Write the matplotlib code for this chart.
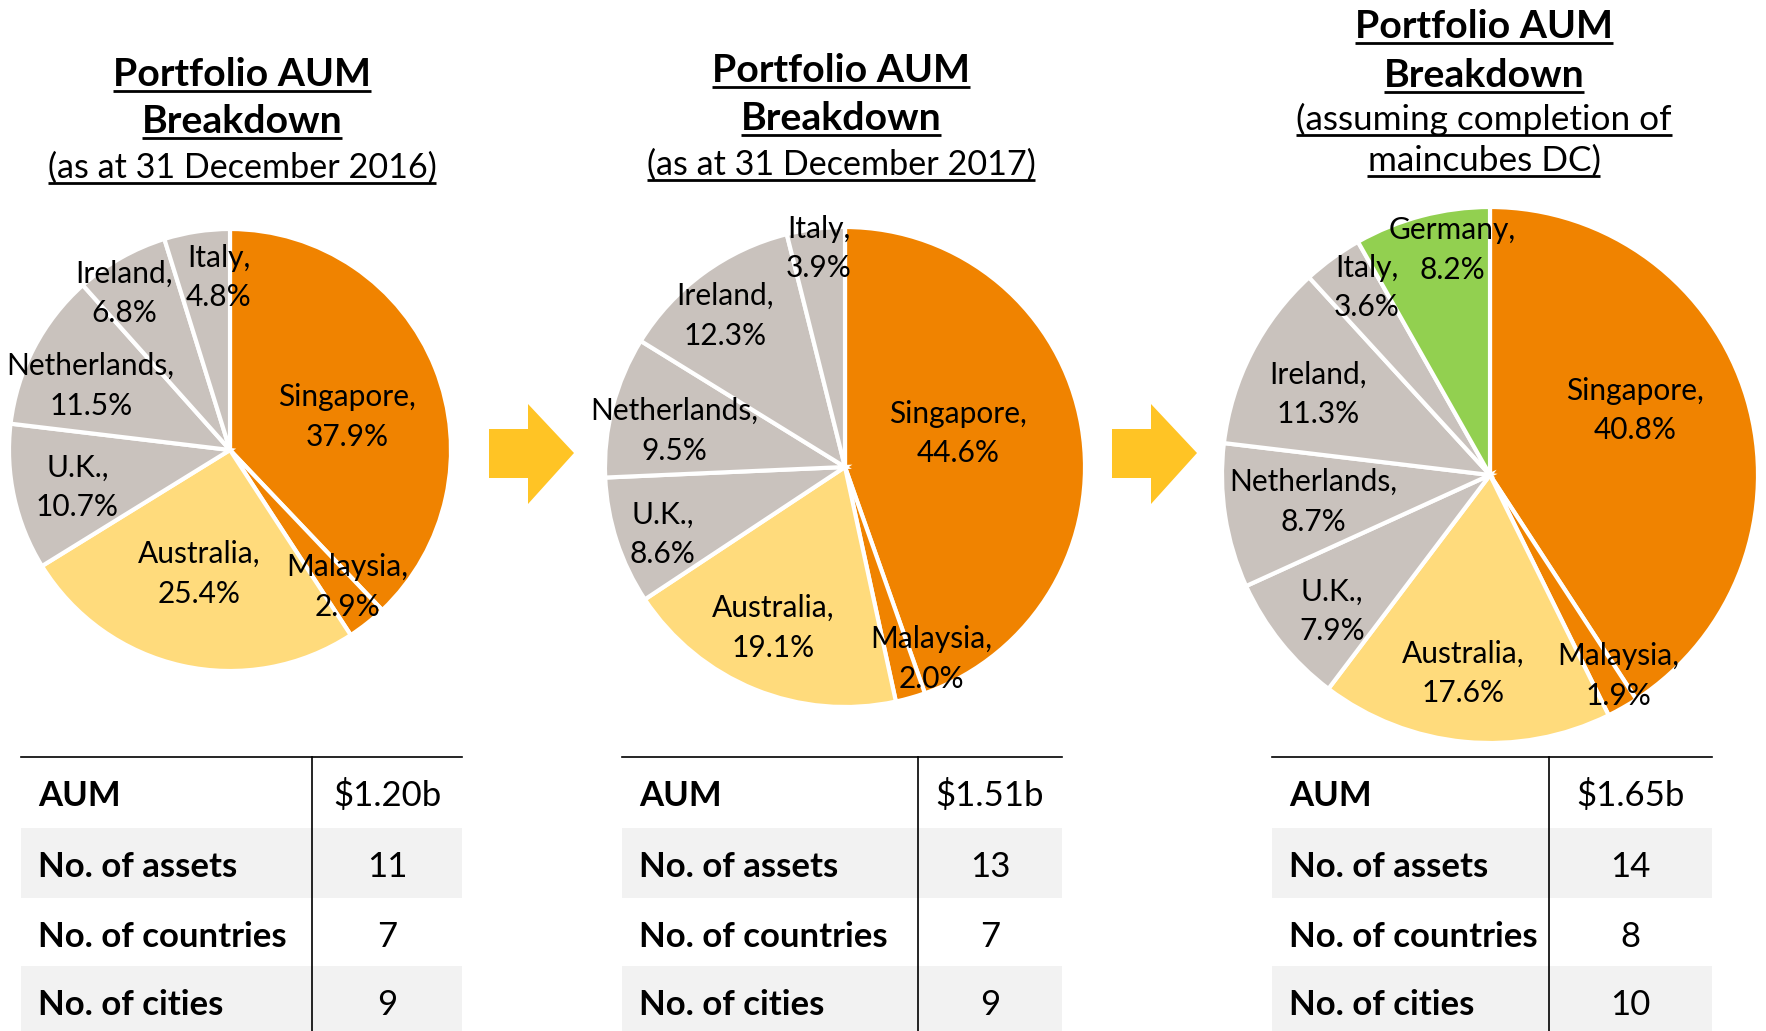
import numpy as np
import matplotlib
matplotlib.use("Agg")
import matplotlib.pyplot as plt
from matplotlib.patches import Polygon, Rectangle

plt.rcParams["font.family"] = ["Lato", "DejaVu Sans"]

W, H = 1766, 1031

# --- data -----------------------------------------------------------------
countries_2016 = ["Singapore", "Malaysia", "Australia", "U.K.", "Netherlands", "Ireland", "Italy"]
share_2016 = [37.9, 2.9, 25.4, 10.7, 11.5, 6.8, 4.8]

countries_2017 = ["Singapore", "Malaysia", "Australia", "U.K.", "Netherlands", "Ireland", "Italy"]
share_2017 = [44.6, 2.0, 19.1, 8.6, 9.5, 12.3, 3.9]

countries_dc = ["Singapore", "Malaysia", "Australia", "U.K.", "Netherlands", "Ireland", "Italy", "Germany"]
share_dc = [40.8, 1.9, 17.6, 7.9, 8.7, 11.3, 3.6, 8.2]

row_labels = ["AUM", "No. of assets", "No. of countries", "No. of cities"]
values_2016 = ["$1.20b", "11", "7", "9"]
values_2017 = ["$1.51b", "13", "7", "9"]
values_dc = ["$1.65b", "14", "8", "10"]

titles_2016 = ["Portfolio AUM", "Breakdown", "(as at 31 December 2016)"]
titles_2017 = ["Portfolio AUM", "Breakdown", "(as at 31 December 2017)"]
titles_dc = ["Portfolio AUM", "Breakdown", "(assuming completion of", "maincubes DC)"]

# --- colours ----------------------------------------------------------------
ORANGE = "#F08300"
YELLOW = "#FFDB7C"
GREY = "#C9C2BD"
GREEN = "#92D050"
ARROW = "#FFC425"
ROWGREY = "#F2F2F2"
country_colors = {
    "Singapore": ORANGE, "Malaysia": ORANGE, "Australia": YELLOW,
    "U.K.": GREY, "Netherlands": GREY, "Ireland": GREY, "Italy": GREY,
    "Germany": GREEN,
}

# label placement (offset from pie centre, in units of the radius)
lab_2016 = [(0.53, 0.15), (0.53, -0.62), (-0.14, -0.56), (-0.69, -0.17),
            (-0.63, 0.29), (-0.48, 0.71), (-0.05, 0.78)]
lab_2017 = [(0.47, 0.14), (0.36, -0.80), (-0.30, -0.67), (-0.76, -0.28),
            (-0.71, 0.15), (-0.50, 0.63), (-0.11, 0.91)]
lab_dc = [(0.54, 0.24), (0.48, -0.75), (-0.10, -0.74), (-0.59, -0.51),
          (-0.66, -0.10), (-0.64, 0.30), (-0.46, 0.70), (-0.14, 0.84)]


def Y(y):
    # image rows (top down) -> data y (bottom up)
    return H - y


fig = plt.figure(figsize=(W / 100, H / 100), dpi=100)
ax = fig.add_axes([0, 0, 1, 1])


def draw_pie(countries, shares, cx, cy, r, lab_pos):
    ax.pie(shares, colors=[country_colors[c] for c in countries],
           startangle=90, counterclock=False, center=(cx, Y(cy)),
           radius=r, frame=True,
           wedgeprops=dict(edgecolor="white", linewidth=3))
    for c, s, (dx, dy) in zip(countries, shares, lab_pos):
        ax.text(cx + dx * r, Y(cy) + dy * r, f"{c},\n{s:.1f}%",
                ha="center", va="center", fontsize=21.5, linespacing=1.5,
                color="black")


def draw_title(lines, cx, baselines, sizes, weights):
    fig.canvas.draw()
    rend = fig.canvas.get_renderer()
    inv = ax.transData.inverted()
    for txt, b, fs, fw in zip(lines, baselines, sizes, weights):
        t = ax.text(cx, Y(b), txt, ha="center", va="baseline",
                    fontsize=fs, fontweight=fw)
        bb = t.get_window_extent(rend)
        x0, _ = inv.transform((bb.x0, 0))
        x1, _ = inv.transform((bb.x1, 0))
        ax.plot([x0, x1], [Y(b + 5), Y(b + 5)], color="black", lw=2,
                solid_capstyle="butt")


def draw_table(values, left, div, right, top=757, row_h=(71, 70, 68, 66)):
    y0 = top
    for i, (lab, val) in enumerate(zip(row_labels, values)):
        h = row_h[i]
        if i % 2 == 1:
            ax.add_patch(Rectangle((left, Y(y0 + h)), right - left, h,
                                   facecolor=ROWGREY, edgecolor="none", zorder=0))
        ax.text(left + 17, Y(y0 + 49), lab, ha="left", va="baseline",
                fontsize=25, fontweight="bold")
        ax.text((div + right) / 2, Y(y0 + 49), val, ha="center",
                va="baseline", fontsize=25)
        y0 += h
    ax.plot([left, right], [Y(top), Y(top)], color="black", lw=1.2)
    ax.plot([div, div], [Y(top), Y(H)], color="black", lw=1.2)


def draw_arrow(x0, y_mid):
    pts = [(x0, y_mid - 24), (x0 + 39, y_mid - 24), (x0 + 39, y_mid - 49),
           (x0 + 85, y_mid), (x0 + 39, y_mid + 51), (x0 + 39, y_mid + 25),
           (x0, y_mid + 25)]
    ax.add_patch(Polygon([(x, Y(y)) for x, y in pts], closed=True,
                         facecolor=ARROW, edgecolor="none"))


draw_pie(countries_2016, share_2016, 230, 450, 221, lab_2016)
draw_pie(countries_2017, share_2017, 845, 467, 240, lab_2017)
draw_pie(countries_dc, share_dc, 1490, 475, 268, lab_dc)

ax.set_xlim(0, W)
ax.set_ylim(0, H)
ax.set_aspect("auto")
ax.axis("off")

draw_arrow(489, 453)
draw_arrow(1112, 453)

draw_table(values_2016, 21, 312, 462)
draw_table(values_2017, 622, 918, 1062)
draw_table(values_dc, 1272, 1549, 1712)

draw_title(titles_2016, 242, [86, 133, 178], [28.3, 28.3, 24.6], ["bold", "bold", "normal"])
draw_title(titles_2017, 841, [82, 130, 175], [28.3, 28.3, 24.6], ["bold", "bold", "normal"])
draw_title(titles_dc, 1484, [38, 87, 130, 171], [28.3, 28.3, 25.3, 25.3],
           ["bold", "bold", "normal", "normal"])

fig.savefig("out.png", dpi=100, facecolor="white")
